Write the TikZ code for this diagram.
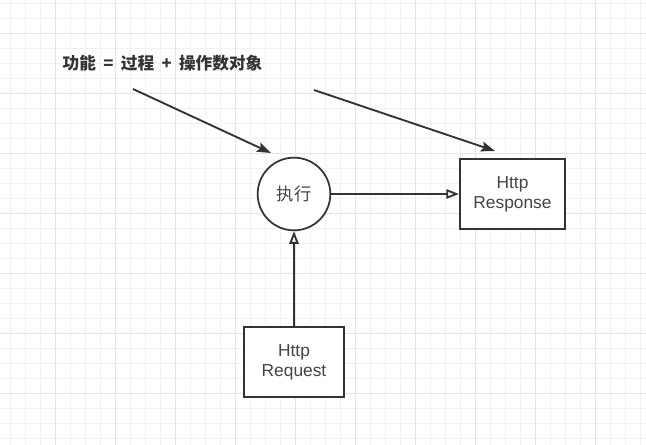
\documentclass[tikz,border=0pt]{standalone}
\usepackage{fontspec}
\setmainfont{Liberation Sans}
\newfontfamily\cjk{Noto Sans CJK SC}
\definecolor{LineGray}{HTML}{333333}
\definecolor{TextGray}{HTML}{444444}
\definecolor{GridMinor}{HTML}{F1F1F1}
\definecolor{GridMajor}{HTML}{E4E4E4}
\usetikzlibrary{arrows.meta, positioning}

\begin{document}
\begin{tikzpicture}[x=0.75pt, y=-0.75pt]
        \tikzstyle{box} = [rectangle, minimum width=78.75pt, minimum height=52.5pt, inner sep=0pt, draw=LineGray, line width=1.5pt, fill=white, text=TextGray, align=center, font=\fontsize{13}{15}\selectfont]
        \tikzstyle{proc} = [circle, minimum size=54.5pt, inner sep=0pt, draw=LineGray, line width=1.3pt, fill=white, text=TextGray, font=\cjk\fontsize{13}{15}\selectfont]
        \tikzstyle{pointer} = [-{Stealth[length=10.5pt, width=7.5pt, inset=2pt]}, line width=1.4pt, LineGray]
        \tikzstyle{flow} = [-{Triangle[open, length=9.5pt, width=7pt]}, line width=1.4pt, LineGray]

        % Background grid
        \useasboundingbox (0,0) rectangle (646,445);
        \fill[white] (0,0) rectangle (646,445);
        \foreach \gx in {0,...,42} \draw[GridMinor, line width=0.75pt] ({10.7+15*\gx},0) -- ++(0,445);
        \foreach \gy in {0,...,29} \draw[GridMinor, line width=0.75pt] (0,{3.3+15*\gy}) -- ++(646,0);
        \foreach \gx in {0,...,9} \draw[GridMajor, line width=0.75pt] ({55.7+60*\gx},0) -- ++(0,445);
        \foreach \gy in {0,...,6} \draw[GridMajor, line width=0.75pt] (0,{33.3+60*\gy}) -- ++(646,0);

        % Nodes
        \node (title) [anchor=west, text=LineGray, font=\cjk\bfseries\fontsize{12.5}{15}\selectfont] at (58,63) {功能\hspace{5.5pt}=\hspace{5.5pt}过程\hspace{5.5pt}+\hspace{5.5pt}操作数对象};
        \node (exec) [proc] at (294,194) {执行};
        \node (response) [box] at (512.5,194) {Http\\Response};
        \node (request) [box, minimum width=75pt] at (294,362) {Http\\Request};

        % Arrows
        \coordinate (from1) at (133,89);
        \coordinate (to1) at (271,153);
        \coordinate (from2) at (314,90);
        \coordinate (to2) at (495,151);
        \draw [pointer] (from1) -- (to1);
        \draw [pointer] (from2) -- (to2);
        \draw [flow] (exec) -- (response);
        \draw [flow] (request) -- (exec);
\end{tikzpicture}
\end{document}
